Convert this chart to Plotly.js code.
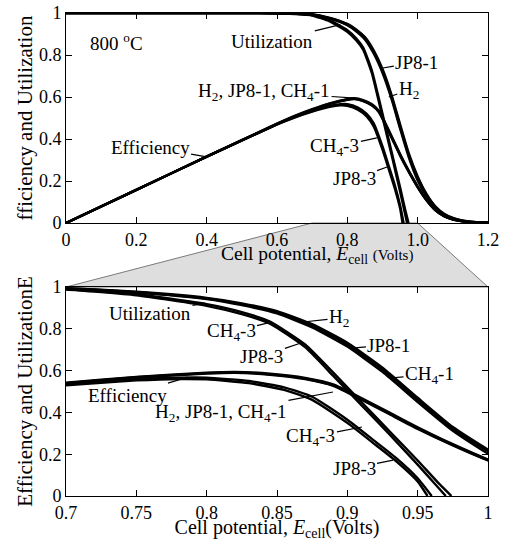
<!DOCTYPE html>
<html>
<head>
<meta charset="utf-8">
<script src="https://cdn.plot.ly/plotly-3.0.1.min.js"></script>
<style>html,body{margin:0;padding:0;background:#fff;}#chart{width:507px;height:541px;}</style>
</head>
<body>
<div id="chart"></div>
<script>
// ---------- data ----------
// Utilization, H2 / JP8-1 / CH4-1 group
const xUtil1 = [0, 0.2, 0.4, 0.5, 0.6, 0.65, 0.7, 0.75, 0.8, 0.825, 0.85, 0.875, 0.9, 0.925, 0.95, 0.975, 1.0, 1.025, 1.05, 1.075, 1.1, 1.125, 1.15, 1.175, 1.2];
const utilH2   = [1, 1, 1, 1, 0.999, 0.997, 0.993, 0.975, 0.945, 0.918, 0.880, 0.815, 0.725, 0.605, 0.460, 0.322, 0.215, 0.135, 0.078, 0.043, 0.023, 0.012, 0.006, 0.003, 0.001];
const utilJP81 = [1, 1, 1, 1, 0.999, 0.998, 0.994, 0.977, 0.948, 0.922, 0.885, 0.822, 0.733, 0.614, 0.470, 0.330, 0.222, 0.139, 0.080, 0.044, 0.024, 0.012, 0.006, 0.003, 0.001];
const utilCH41 = [1, 1, 1, 1, 0.999, 0.997, 0.992, 0.973, 0.942, 0.913, 0.874, 0.807, 0.715, 0.594, 0.450, 0.312, 0.203, 0.127, 0.072, 0.039, 0.021, 0.010, 0.005, 0.002, 0.001];
// Utilization, CH4-3 / JP8-3
const xUtilCH43 = [0, 0.2, 0.4, 0.5, 0.6, 0.65, 0.7, 0.75, 0.8, 0.825, 0.845, 0.87, 0.89, 0.91, 0.93, 0.95, 0.965, 0.974];
const utilCH43  = [1, 1, 1, 1, 0.999, 0.996, 0.990, 0.965, 0.918, 0.880, 0.835, 0.725, 0.590, 0.450, 0.310, 0.170, 0.060, 0];
const xUtilJP83 = [0, 0.2, 0.4, 0.5, 0.6, 0.65, 0.7, 0.75, 0.8, 0.825, 0.845, 0.87, 0.89, 0.91, 0.93, 0.95, 0.962, 0.970];
const utilJP83  = [1, 1, 1, 1, 0.999, 0.995, 0.988, 0.960, 0.910, 0.870, 0.825, 0.712, 0.575, 0.435, 0.295, 0.150, 0.060, 0];
// Efficiency, H2 / JP8-1 / CH4-1 group
const xEff1   = [0, 0.2, 0.4, 0.6, 0.65, 0.7, 0.75, 0.8, 0.82, 0.845, 0.87, 0.89, 0.91, 0.93, 0.95, 0.975, 1.0, 1.025, 1.05, 1.075, 1.1, 1.125, 1.15, 1.175, 1.2];
const effH2   = [0, 0.158, 0.316, 0.472, 0.508, 0.540, 0.568, 0.588, 0.592, 0.582, 0.562, 0.530, 0.465, 0.395, 0.325, 0.245, 0.172, 0.110, 0.062, 0.033, 0.017, 0.009, 0.004, 0.002, 0.001];
const effJP81 = [0, 0.158, 0.316, 0.473, 0.510, 0.542, 0.570, 0.590, 0.594, 0.585, 0.565, 0.534, 0.469, 0.399, 0.329, 0.248, 0.175, 0.112, 0.063, 0.034, 0.018, 0.009, 0.004, 0.002, 0.001];
const effCH41 = [0, 0.158, 0.316, 0.471, 0.507, 0.538, 0.566, 0.586, 0.590, 0.580, 0.559, 0.527, 0.461, 0.391, 0.321, 0.242, 0.170, 0.108, 0.061, 0.032, 0.016, 0.008, 0.004, 0.002, 0.001];
// Efficiency, CH4-3 / JP8-3
const xEffCH43 = [0, 0.2, 0.4, 0.6, 0.65, 0.7, 0.75, 0.78, 0.8, 0.83, 0.855, 0.875, 0.9, 0.92, 0.935, 0.95, 0.960];
const effCH43  = [0, 0.158, 0.316, 0.470, 0.504, 0.533, 0.558, 0.566, 0.566, 0.550, 0.520, 0.475, 0.365, 0.260, 0.180, 0.085, 0];
const xEffJP83 = [0, 0.2, 0.4, 0.6, 0.65, 0.7, 0.75, 0.78, 0.8, 0.83, 0.855, 0.875, 0.9, 0.92, 0.935, 0.95, 0.957];
const effJP83  = [0, 0.158, 0.316, 0.469, 0.502, 0.530, 0.553, 0.560, 0.558, 0.540, 0.508, 0.460, 0.350, 0.245, 0.165, 0.070, 0];

// tick labels
const topXTickVals = [0, 0.2, 0.4, 0.6, 0.8, 1.0, 1.2];
const topXTickText = ['0', '0.2', '0.4', '0.6', '0.8', '1.0', '1.2'];
const yTickVals = [0, 0.2, 0.4, 0.6, 0.8, 1];
const yTickText = ['0', '0.2', '0.4', '0.6', '0.8', '1'];
const botXTickVals = [0.7, 0.75, 0.8, 0.85, 0.9, 0.95, 1];
const botXTickText = ['0.7', '0.75', '0.8', '0.85', '0.9', '0.95', '1'];

// ---------- build ----------
const FONT = "'Liberation Serif', 'DejaVu Serif', serif";
const seriesList = [
  {x: xUtil1, y: utilH2, name: 'Utilization H2'},
  {x: xUtil1, y: utilJP81, name: 'Utilization JP8-1'},
  {x: xUtil1, y: utilCH41, name: 'Utilization CH4-1'},
  {x: xUtilCH43, y: utilCH43, name: 'Utilization CH4-3'},
  {x: xUtilJP83, y: utilJP83, name: 'Utilization JP8-3'},
  {x: xEff1, y: effH2, name: 'Efficiency H2'},
  {x: xEff1, y: effJP81, name: 'Efficiency JP8-1'},
  {x: xEff1, y: effCH41, name: 'Efficiency CH4-1'},
  {x: xEffCH43, y: effCH43, name: 'Efficiency CH4-3'},
  {x: xEffJP83, y: effJP83, name: 'Efficiency JP8-3'}
];
const traces = [];
seriesList.forEach(s => {
  traces.push({x: s.x, y: s.y, name: s.name, type: 'scatter', mode: 'lines',
    line: {color: '#000', width: 2.4, shape: 'spline', smoothing: 0.5}, xaxis: 'x', yaxis: 'y', showlegend: false, hoverinfo: 'skip'});
  traces.push({x: s.x, y: s.y, name: s.name, type: 'scatter', mode: 'lines',
    line: {color: '#000', width: 2.4, shape: 'spline', smoothing: 0.5}, xaxis: 'x2', yaxis: 'y2', showlegend: false, hoverinfo: 'skip'});
});

const axisCommon = {
  showline: true, linecolor: '#000', linewidth: 1, mirror: 'ticks',
  ticks: 'inside', ticklen: 6, tickwidth: 1, tickcolor: '#000',
  showgrid: false, zeroline: false, tickmode: 'array',
  tickfont: {family: FONT, size: 18, color: '#000'}
};

const topDomain = [0.5652, 1];
const botDomain = [0, 0.4327];

function lab(text, x, y, ax, ay, xref, yref) {
  return {text: text, x: x, y: y, ax: ax, ay: ay, xref: xref, yref: yref,
    showarrow: true, arrowhead: 0, arrowwidth: 1.2, arrowcolor: '#000', standoff: 0,
    font: {family: FONT, size: 19, color: '#000'}};
}

const annotations = [
  {text: '800 <sup>o</sup>C', x: 0.145, y: 0.862, xref: 'x', yref: 'y', showarrow: false,
   font: {family: FONT, size: 19, color: '#000'}},
  lab('Utilization', 0.78, 0.945, -68, 17, 'x', 'y'),
  lab('JP8-1', 0.901, 0.738, 34, -6, 'x', 'y'),
  lab('H<sub>2</sub>', 0.918, 0.60, 20, -7, 'x', 'y'),
  lab('H<sub>2</sub>, JP8-1, CH<sub>4</sub>-1', 0.822, 0.595, -91, -6, 'x', 'y'),
  lab('Efficiency', 0.404, 0.314, -58, -10, 'x', 'y'),
  lab('CH<sub>4</sub>-3', 0.884, 0.405, -42, 9, 'x', 'y'),
  lab('JP8-3', 0.913, 0.267, -33, 12, 'x', 'y'),
  {text: 'Cell potential, <i>E</i><sub>cell</sub> <span style="font-size:15px">(Volts)</span>',
   x: 0.595, y: 0.5, xref: 'paper', yref: 'paper', showarrow: false,
   font: {family: FONT, size: 19.5, color: '#000'}},
  lab('Utilization', 0.7988, 0.923, -55, 10, 'x2', 'y2'),
  lab('CH<sub>4</sub>-3', 0.8436, 0.828, -37, 9, 'x2', 'y2'),
  lab('JP8-3', 0.867, 0.732, -39, 13, 'x2', 'y2'),
  lab('H<sub>2</sub>', 0.8685, 0.8325, 36, -4, 'x2', 'y2'),
  lab('JP8-1', 0.9033, 0.708, 37, -3, 'x2', 'y2'),
  lab('CH<sub>4</sub>-1', 0.930, 0.5646, 40, -3, 'x2', 'y2'),
  lab('Efficiency', 0.7867, 0.569, -60, 18, 'x2', 'y2'),
  lab('H<sub>2</sub>, JP8-1, CH<sub>4</sub>-1', 0.8898, 0.4976, -112, 21, 'x2', 'y2'),
  lab('CH<sub>4</sub>-3', 0.9104, 0.33, -51, 10, 'x2', 'y2'),
  lab('JP8-3', 0.9325, 0.172, -39, 8, 'x2', 'y2')
];

const layout = {
  width: 507, height: 541,
  margin: {l: 66, r: 19, t: 13, b: 45},
  paper_bgcolor: '#fff', plot_bgcolor: 'rgba(0,0,0,0)',
  font: {family: FONT, size: 18, color: '#000'},
  showlegend: false,
  xaxis: Object.assign({}, axisCommon, {domain: [0, 1], range: [0, 1.2], anchor: 'y',
    tickvals: topXTickVals, ticktext: topXTickText}),
  yaxis: Object.assign({}, axisCommon, {domain: topDomain, range: [0, 1], anchor: 'x',
    tickvals: yTickVals, ticktext: yTickText,
    title: {text: 'fficiency and Utilization', font: {family: FONT, size: 21, color: '#000'}, standoff: 0}}),
  xaxis2: Object.assign({}, axisCommon, {domain: [0, 1], range: [0.7, 1], anchor: 'y2',
    tickvals: botXTickVals, ticktext: botXTickText,
    title: {text: 'Cell potential, <i>E</i><sub>cell</sub>(Volts)', font: {family: FONT, size: 20, color: '#000'}, standoff: 5}}),
  yaxis2: Object.assign({}, axisCommon, {domain: botDomain, range: [0, 1], anchor: 'x2',
    tickvals: yTickVals, ticktext: yTickText,
    title: {text: 'Efficiency and UtilizationE', font: {family: FONT, size: 21, color: '#000'}, standoff: 0}}),
  shapes: [{
    type: 'path', xref: 'paper', yref: 'paper', layer: 'below',
    path: 'M0.5833,0.5652 L0.8333,0.5652 L1,0.4327 L0,0.4327 Z',
    fillcolor: '#dedede', line: {color: '#7a7a7a', width: 1}
  }],
  annotations: annotations
};

Plotly.newPlot('chart', traces, layout, {displayModeBar: false, staticPlot: true});
</script>
</body>
</html>
